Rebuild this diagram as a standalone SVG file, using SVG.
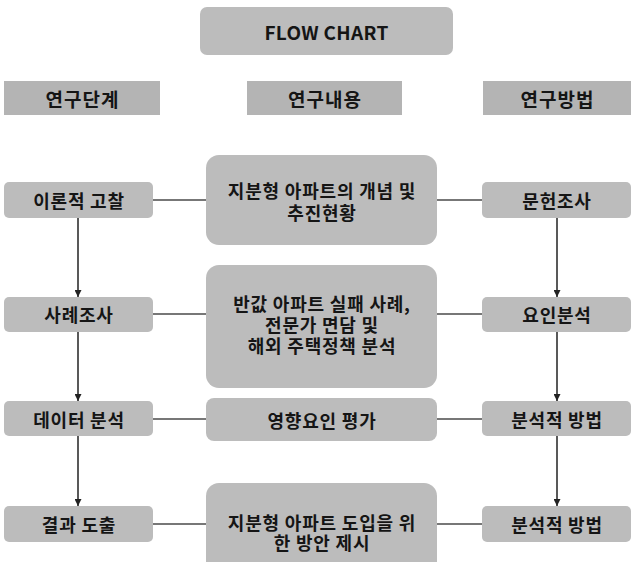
<svg xmlns="http://www.w3.org/2000/svg" width="633" height="562" viewBox="0 0 633 562">
<defs>
<style>
.hdr{fill:#b4b4b4}
.box{fill:#bcbcbc}
.t{font-family:"Noto Sans CJK KR","Noto Sans",sans-serif;font-weight:700;fill:#151515;text-anchor:middle;dominant-baseline:central}
.h{font-size:19px;letter-spacing:1px}
.ti{font-size:19px;letter-spacing:0.3px}
.n{font-size:18px;letter-spacing:0.8px}
.c{stroke:#4a4a4a;stroke-width:1.5;fill:none}
.a{stroke:#222;stroke-width:1.5;fill:none;marker-end:url(#arr)}
</style>
<marker id="arr" viewBox="0 0 10 10" refX="10" refY="5" markerWidth="7" markerHeight="7" markerUnits="userSpaceOnUse" orient="auto">
<path d="M0,0 L10,5 L0,10 z" fill="#222"/>
</marker>
</defs>
<rect width="633" height="562" fill="#ffffff"/>
<g id="connectors">
<line class="c" x1="153" y1="200" x2="206" y2="200"/>
<line class="c" x1="437" y1="200" x2="482" y2="200"/>
<line class="c" x1="153" y1="314" x2="206" y2="314"/>
<line class="c" x1="437" y1="314" x2="482" y2="314"/>
<line class="c" x1="153" y1="419" x2="206" y2="419"/>
<line class="c" x1="437" y1="419" x2="482" y2="419"/>
<line class="c" x1="153" y1="524" x2="206" y2="524"/>
<line class="c" x1="437" y1="524" x2="482" y2="524"/>
<line class="a" x1="78" y1="218" x2="78" y2="297"/>
<line class="a" x1="78" y1="332" x2="78" y2="401"/>
<line class="a" x1="78" y1="436" x2="78" y2="506"/>
<line class="a" x1="557" y1="218" x2="557" y2="297"/>
<line class="a" x1="557" y1="332" x2="557" y2="401"/>
<line class="a" x1="557" y1="436" x2="557" y2="506"/>
</g>
<g id="title"><rect class="box" x="200" y="7" width="253" height="48" rx="7"/><text class="t ti" x="326.5" y="31">FLOW CHART</text></g>
<g id="hdr-stage"><rect class="hdr" x="4" y="81" width="156" height="34"/><text class="t h" x="82.5" y="98">연구단계</text></g>
<g id="hdr-content"><rect class="hdr" x="247" y="81" width="155" height="34"/><text class="t h" x="325" y="98">연구내용</text></g>
<g id="hdr-method"><rect class="hdr" x="483" y="81" width="148" height="34"/><text class="t h" x="557.5" y="98">연구방법</text></g>
<g id="s1"><rect class="box" x="4" y="182" width="149" height="36" rx="5"/><text class="t n" x="79" y="200">이론적 고찰</text></g>
<g id="s2"><rect class="box" x="4" y="297" width="149" height="35" rx="5"/><text class="t n" x="79" y="314">사례조사</text></g>
<g id="s3"><rect class="box" x="4" y="401" width="149" height="35" rx="5"/><text class="t n" x="79" y="418.5">데이터 분석</text></g>
<g id="s4"><rect class="box" x="4" y="506" width="149" height="36" rx="5"/><text class="t n" x="79" y="524">결과 도출</text></g>
<g id="c1"><rect class="box" x="206" y="155" width="231" height="90" rx="13"/><text class="t n" x="322" y="190">지분형 아파트의 개념 및</text><text class="t n" x="322" y="212">추진현황</text></g>
<g id="c2"><rect class="box" x="206" y="265" width="231" height="123" rx="13"/><text class="t n" x="322" y="303">반값 아파트 실패 사례,</text><text class="t n" x="322" y="324">전문가 면담 및</text><text class="t n" x="322" y="345">해외 주택정책 분석</text></g>
<g id="c3"><rect class="box" x="206" y="398" width="231" height="43" rx="8"/><text class="t n" x="322" y="420">영향요인 평가</text></g>
<g id="c4"><rect class="box" x="206" y="483" width="231" height="97" rx="13"/><text class="t n" x="322" y="522">지분형 아파트 도입을 위</text><text class="t n" x="322" y="542">한 방안 제시</text></g>
<g id="m1"><rect class="box" x="482" y="182" width="149" height="36" rx="5"/><text class="t n" x="557" y="200">문헌조사</text></g>
<g id="m2"><rect class="box" x="482" y="297" width="149" height="35" rx="5"/><text class="t n" x="557" y="314">요인분석</text></g>
<g id="m3"><rect class="box" x="482" y="401" width="149" height="35" rx="5"/><text class="t n" x="557" y="418.5">분석적 방법</text></g>
<g id="m4"><rect class="box" x="482" y="506" width="149" height="36" rx="5"/><text class="t n" x="557" y="524">분석적 방법</text></g>
</svg>
